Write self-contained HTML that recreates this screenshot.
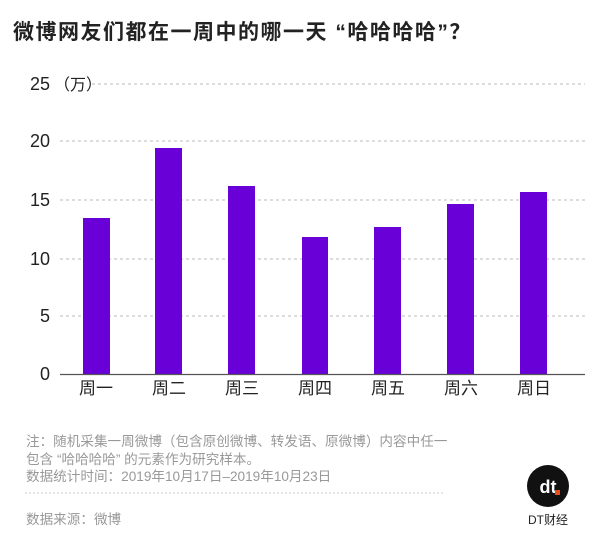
<!DOCTYPE html>
<html><head><meta charset="utf-8"><style>
body{margin:0;width:600px;height:535px;background:#fff;overflow:hidden;font-family:"Liberation Sans","Noto Sans CJK SC",sans-serif;}
</style></head><body>
<svg width="600" height="535" xmlns="http://www.w3.org/2000/svg" font-family="Liberation Sans, Noto Sans CJK SC, sans-serif">
<text x="13" y="39" font-size="21" font-weight="bold" fill="#222" letter-spacing="1.5">微博网友们都在一周中的哪一天 “哈哈哈哈”？</text>
<g stroke="#bbb" stroke-dasharray="3,3" stroke-width="1">
<line x1="92" y1="84" x2="585" y2="84"/>
<line x1="60" y1="141" x2="585" y2="141"/>
<line x1="60" y1="200" x2="585" y2="200"/>
<line x1="60" y1="259" x2="585" y2="259"/>
<line x1="60" y1="316" x2="585" y2="316"/>
</g>
<g font-size="18" fill="#222" text-anchor="end">
<text x="50" y="90">25</text><text x="50" y="147">20</text><text x="50" y="206">15</text><text x="50" y="265">10</text><text x="50" y="322">5</text><text x="50" y="380">0</text>
</g>
<text x="54" y="90" font-size="16" fill="#222">（万）</text>
<g fill="#6a00d8">
<rect x="83" y="218" width="27" height="156"/>
<rect x="155" y="148" width="27" height="226"/>
<rect x="228" y="186" width="27" height="188"/>
<rect x="302" y="237" width="26" height="137"/>
<rect x="374" y="227" width="27" height="147"/>
<rect x="447" y="204" width="27" height="170"/>
<rect x="520" y="192" width="27" height="182"/>
</g>
<line x1="60" y1="374.5" x2="585" y2="374.5" stroke="#555" stroke-width="1.2"/>
<g font-size="17" fill="#222" text-anchor="middle">
<text x="96" y="394">周一</text><text x="169" y="394">周二</text><text x="242" y="394">周三</text><text x="315" y="394">周四</text><text x="388" y="394">周五</text><text x="461" y="394">周六</text><text x="534" y="394">周日</text>
</g>
<g font-size="13.6" fill="#999">
<text x="26" y="446">注：随机采集一周微博（包含原创微博、转发语、原微博）内容中任一</text>
<text x="26" y="464">包含 “哈哈哈哈” 的元素作为研究样本。</text>
<text x="26" y="481">数据统计时间：2019年10月17日–2019年10月23日</text>
<text x="26" y="524">数据来源：微博</text>
</g>
<line x1="25" y1="493" x2="445" y2="493" stroke="#ccc" stroke-dasharray="2,2"/>
<circle cx="548" cy="486" r="21" fill="#111"/>
<text x="548" y="493" font-size="18" font-weight="bold" fill="#fff" text-anchor="middle">dt</text>
<rect x="555" y="490" width="5" height="5" fill="#e8501e"/>
<text x="548" y="524" font-size="12" fill="#222" text-anchor="middle">DT财经</text>
</svg>
</body></html>
